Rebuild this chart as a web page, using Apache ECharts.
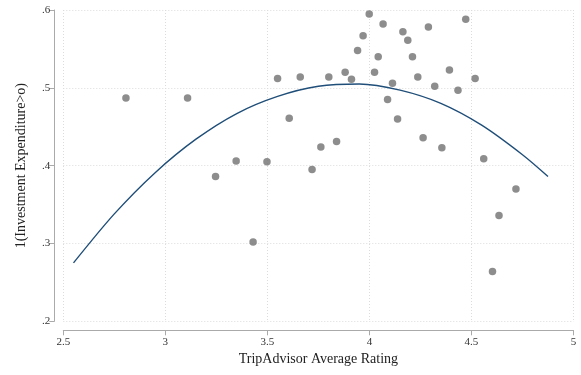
<!DOCTYPE html>
<html>
<head>
<meta charset="utf-8">
<script src="https://cdn.jsdelivr.net/npm/echarts@6/dist/echarts.min.js"></script>
<style>
  html, body { margin: 0; padding: 0; background: #fff; }
  #chart { width: 581px; height: 375px; }
</style>
</head>
<body>
<div id="chart"></div>
<script>
// Hotel-level averages: TripAdvisor rating vs share with investment expenditure > 0
const ratings = [
  2.807, 3.109, 3.246, 3.347, 3.430, 3.498, 3.550, 3.607, 3.661, 3.719,
  3.762, 3.801, 3.839, 3.881, 3.912, 3.942, 3.969, 3.999, 4.025, 4.043,
  4.067, 4.089, 4.113, 4.138, 4.164, 4.188, 4.211, 4.237, 4.263, 4.289,
  4.320, 4.355, 4.392, 4.434, 4.472, 4.518, 4.560, 4.603, 4.635, 4.718
];
const investShare = [
  0.487, 0.487, 0.386, 0.406, 0.302, 0.405, 0.512, 0.461, 0.514, 0.395,
  0.424, 0.514, 0.431, 0.520, 0.511, 0.548, 0.567, 0.595, 0.520, 0.540,
  0.582, 0.485, 0.506, 0.460, 0.572, 0.561, 0.540, 0.514, 0.436, 0.578,
  0.502, 0.423, 0.523, 0.497, 0.588, 0.512, 0.409, 0.264, 0.336, 0.370
];

// Quadratic fit, sampled along the rating range
const fitRating = [2.55, 2.75, 2.95, 3.15, 3.35, 3.55, 3.75, 3.95, 4.15, 4.35, 4.55, 4.75, 4.875];
const fitShare  = [0.275, 0.338, 0.391, 0.434, 0.467, 0.489, 0.502, 0.505, 0.497, 0.480, 0.452, 0.414, 0.386];

// Tick labels
const xTicks = ['2.5', '3', '3.5', '4', '4.5', '5'];
const yTicks = ['.2', '.3', '.4', '.5', '.6'];

const serif = '"Liberation Serif", "DejaVu Serif", serif';

const chart = echarts.init(document.getElementById('chart'), null, { renderer: 'canvas' });

const scatterData = ratings.map((r, i) => [r, investShare[i]]);
const fitData = fitRating.map((r, i) => [r, fitShare[i]]);

chart.setOption({
  animation: false,
  backgroundColor: '#ffffff',
  grid: { left: 63.3, right: 7.5, top: 10, bottom: 53.7, containLabel: false },
  xAxis: {
    type: 'value',
    min: 2.5, max: 5, interval: 0.5,
    offset: 9,
    name: 'TripAdvisor Average Rating',
    nameLocation: 'middle',
    nameGap: 15,
    nameTextStyle: { fontFamily: serif, fontSize: 14, color: '#222', verticalAlign: 'top' },
    axisLine: { show: true, lineStyle: { color: '#aaaaaa', width: 1 } },
    axisTick: { show: true, length: 5, lineStyle: { color: '#aaaaaa' } },
    axisLabel: {
      fontFamily: serif, fontSize: 11, color: '#333', margin: 6,
      formatter: v => xTicks[Math.round((v - 2.5) / 0.5)] ?? ''
    },
    splitLine: { show: true, lineStyle: { color: '#dcdcdc', type: [1, 2], width: 1 } }
  },
  yAxis: {
    type: 'value',
    min: 0.2, max: 0.6, interval: 0.1,
    offset: 9,
    name: '1(Investment Expenditure>o)',
    nameLocation: 'middle',
    nameGap: 26,
    nameTextStyle: { fontFamily: serif, fontSize: 14, color: '#222' },
    axisLine: { show: true, lineStyle: { color: '#aaaaaa', width: 1 } },
    axisTick: { show: true, length: 5, lineStyle: { color: '#aaaaaa' } },
    axisLabel: {
      fontFamily: serif, fontSize: 11, color: '#333', margin: 4,
      formatter: v => yTicks[Math.round((v - 0.2) / 0.1)] ?? ''
    },
    splitLine: { show: true, lineStyle: { color: '#dcdcdc', type: [1, 2], width: 1 } }
  },
  series: [
    {
      type: 'scatter',
      data: scatterData,
      symbol: 'circle',
      symbolSize: 7.5,
      itemStyle: { color: '#717171' },
      z: 3
    },
    {
      type: 'line',
      data: fitData,
      smooth: 0.3,
      showSymbol: false,
      lineStyle: { color: '#1f4e79', width: 1.4 },
      z: 2
    }
  ]
});
</script>
</body>
</html>
